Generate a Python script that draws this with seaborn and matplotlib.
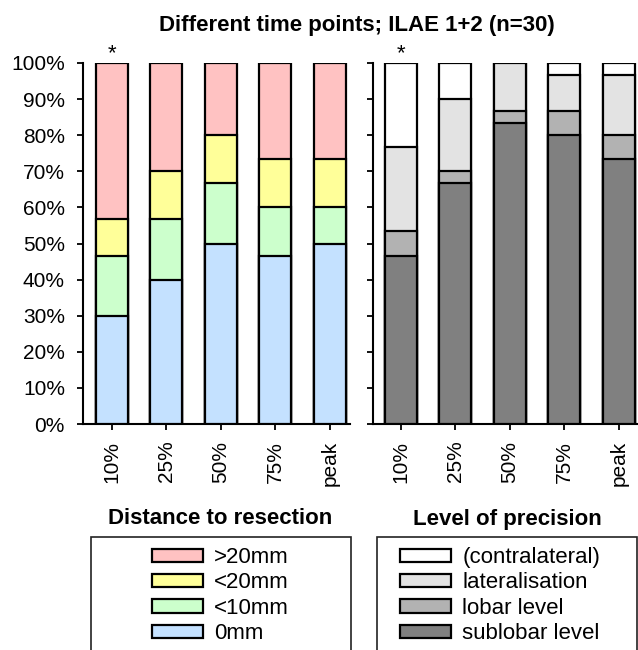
import matplotlib
matplotlib.use("Agg")
import matplotlib.pyplot as plt
import seaborn as sns
import pandas as pd
import numpy as np
from matplotlib.patches import Patch, Rectangle

sns.set_style("white")
plt.rcParams['font.family'] = ['Liberation Sans', 'DejaVu Sans']
plt.rcParams['text.color'] = 'black'
plt.rcParams['xtick.color'] = 'black'
plt.rcParams['ytick.color'] = 'black'
plt.rcParams['axes.labelcolor'] = 'black'

# ---- data (counts out of n = 30) ----
n_patients = 30
time_points = ['10%', '25%', '50%', '75%', 'peak']

dist_labels = ['0mm', '<10mm', '<20mm', '>20mm']
dist_0mm = [9, 12, 15, 14, 15]
dist_lt10 = [5, 5, 5, 4, 3]
dist_lt20 = [3, 4, 4, 4, 4]
dist_gt20 = [13, 9, 6, 8, 8]
dist_colors = ['#C4E1FF', '#CCFFCC', '#FFFF99', '#FFC2C2']

prec_labels = ['sublobar level', 'lobar level', 'lateralisation', '(contralateral)']
prec_sublobar = [14, 20, 25, 24, 22]
prec_lobar = [2, 1, 1, 2, 2]
prec_lat = [7, 6, 4, 3, 5]
prec_contra = [7, 3, 0, 1, 1]
prec_colors = ['#808080', '#B2B2B2', '#E3E3E3', '#FFFFFF']

title = 'Different time points; ILAE 1+2 (n=30)'
legend_titles = ['Distance to resection', 'Level of precision']
star_marks = ['*', '*']

W, H = 638, 650
fig = plt.figure(figsize=(W / 100, H / 100), dpi=100)


def fx(px):
    return px / W


def fy(py):
    return 1 - py / H


ax1 = fig.add_axes([fx(83), fy(424), fx(350) - fx(83), (424 - 63) / H])
ax2 = fig.add_axes([fx(373), fy(424), fx(638) - fx(373), (424 - 63) / H])


def stacked(ax, layers, colors):
    arr = np.array(layers, dtype=float) / n_patients * 100
    cum = np.cumsum(arr, axis=0)
    for i in range(len(layers) - 1, -1, -1):
        df = pd.DataFrame({'time': time_points, 'value': cum[i]})
        sns.barplot(data=df, x='time', y='value', color=colors[i], saturation=1,
                    width=0.59, edgecolor='black', linewidth=1.6, ax=ax, zorder=3)


stacked(ax1, [dist_0mm, dist_lt10, dist_lt20, dist_gt20], dist_colors)
stacked(ax2, [prec_sublobar, prec_lobar, prec_lat, prec_contra], prec_colors)

for ax, xl in ((ax1, (-0.53, 4.37)), (ax2, (-0.51, 4.35))):
    ax.set_xlim(*xl)
    ax.set_ylim(0, 100)
    ax.set_xlabel('')
    ax.set_ylabel('')
    ax.set_yticks(np.arange(0, 101, 10))
    for s in ('top', 'right'):
        ax.spines[s].set_visible(False)
    for s in ('left', 'bottom'):
        ax.spines[s].set_linewidth(1.5)
        ax.spines[s].set_color('black')
    ax.tick_params(axis='both', direction='out', length=4, width=1.3, color='black',
                   labelcolor='black', labelsize=15, left=True, bottom=True)
    ax.tick_params(axis='y', pad=9)
    ax.tick_params(axis='x', pad=8)
    for lab in ax.get_xticklabels():
        lab.set_rotation(90)
    ax.annotate(star_marks[0], xy=(0, 100), xytext=(0, -1), textcoords='offset points',
                ha='center', va='bottom', fontsize=16, color='black')

ax1.set_yticklabels([f'{v}%' for v in range(0, 101, 10)])
ax2.set_yticklabels([])

fig.text(fx(357), fy(25), title, ha='center', va='center', fontsize=16, fontweight='bold')

# legends
fig.text(fx(220), fy(519), legend_titles[0], ha='center', va='center', fontsize=16, fontweight='bold')
fig.text(fx(507), fy(519), legend_titles[1], ha='center', va='center', fontsize=16, fontweight='bold')

for x0, x1 in ((91, 351), (377, 637)):
    fig.patches.append(Rectangle((fx(x0), -0.02), fx(x1) - fx(x0), fy(537) + 0.02,
                                 transform=fig.transFigure, fill=False,
                                 edgecolor='#222222', linewidth=1.2))

h1 = [Patch(facecolor=dist_colors[i], edgecolor='black', linewidth=1.6, label=dist_labels[i])
      for i in range(3, -1, -1)]
h2 = [Patch(facecolor=prec_colors[i], edgecolor='black', linewidth=1.6, label=prec_labels[i])
      for i in range(3, -1, -1)]

common = dict(frameon=False, fontsize=16, handlelength=2.3, handleheight=0.54,
              labelspacing=0.2, handletextpad=0.5, borderpad=0, borderaxespad=0,
              loc='upper left')
fig.legend(handles=h1, bbox_to_anchor=(fx(152), fy(547)), **common)
fig.legend(handles=h2, bbox_to_anchor=(fx(400), fy(547)), **common)

fig.savefig('out.png', dpi=100)
